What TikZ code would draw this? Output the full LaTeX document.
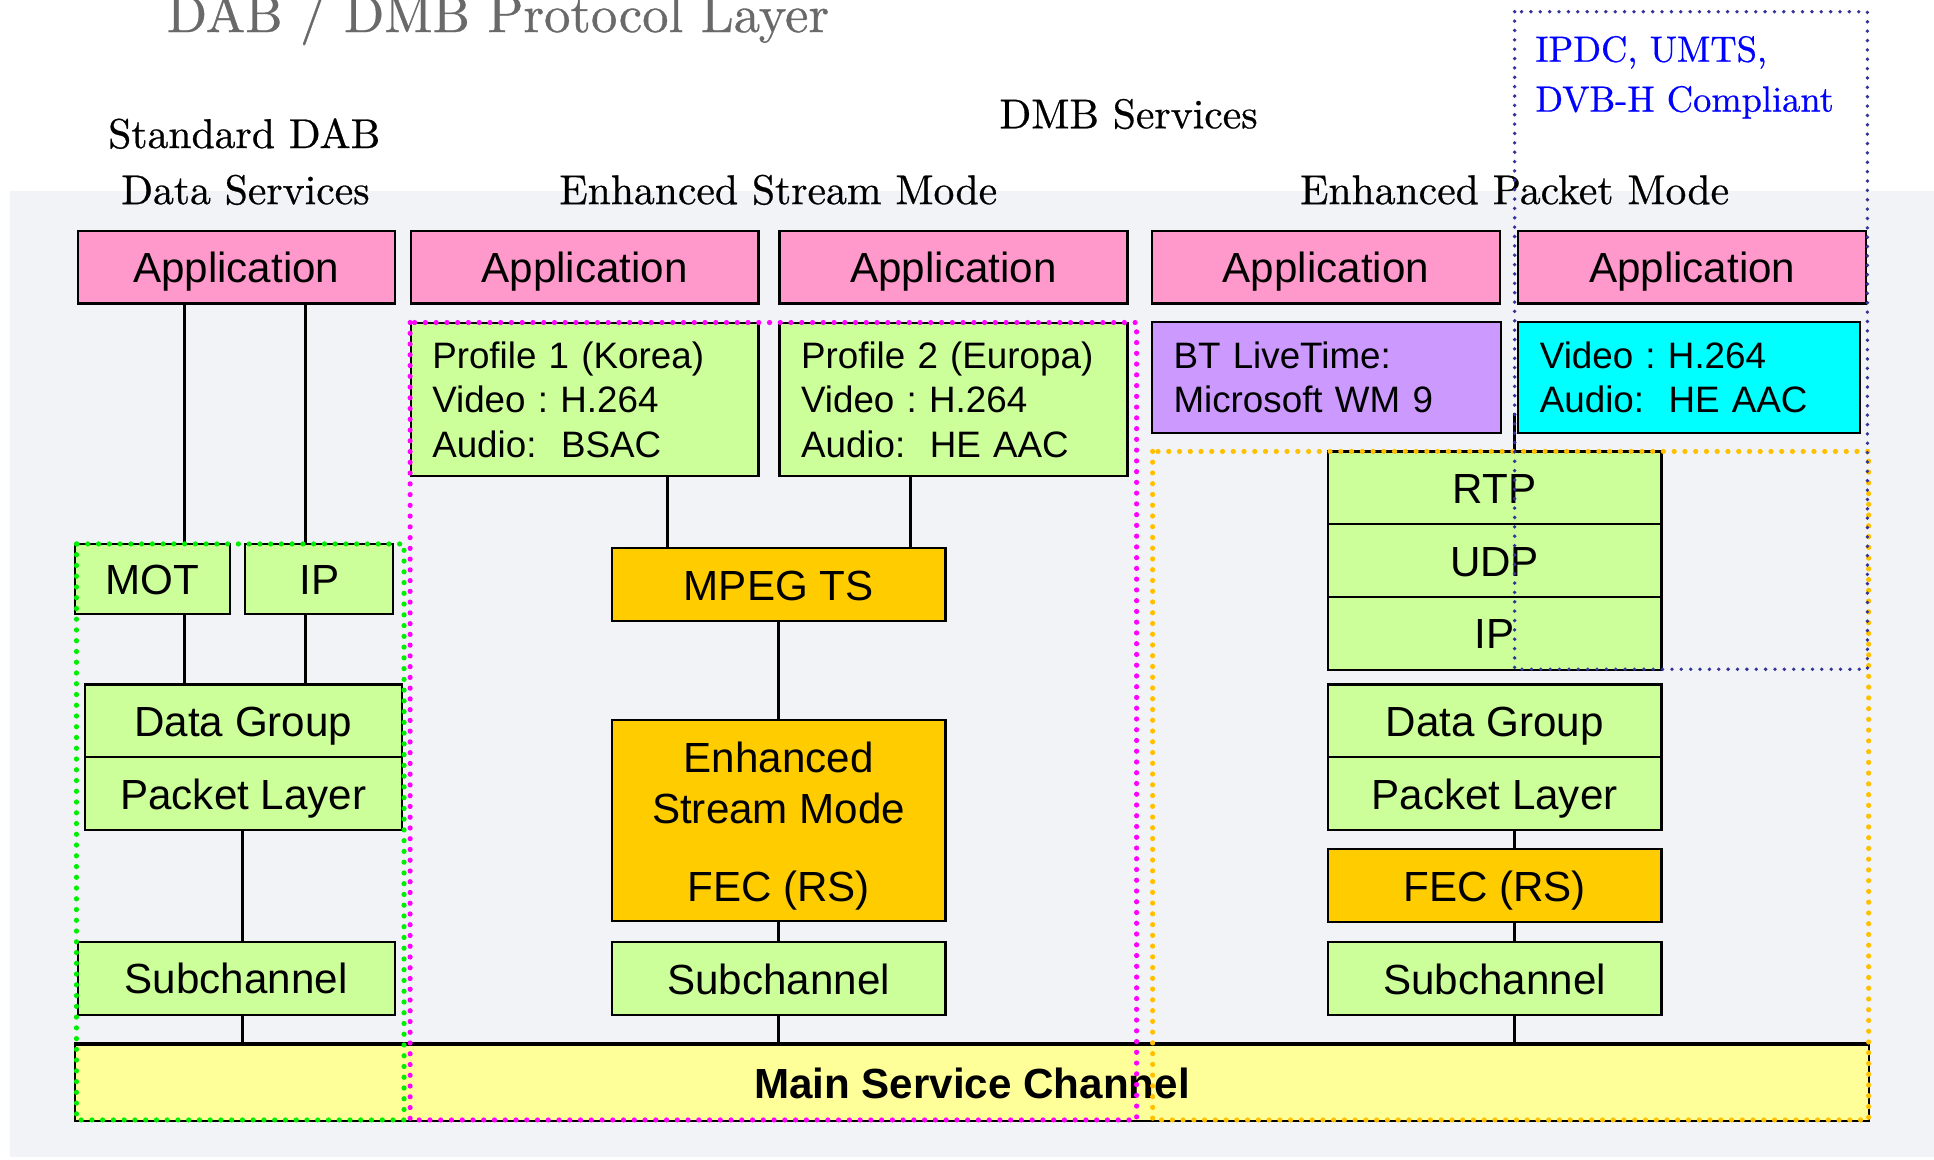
\documentclass[tikz,border=0pt]{standalone}
\usepackage{fontspec}
\newfontfamily\arialfont{Liberation Sans}
\newfontfamily\hdrfont{lmroman10-regular.otf}[FakeBold=0.6]
\definecolor{apppink}{HTML}{FF99CC}
\definecolor{layergreen}{HTML}{CCFF99}
\definecolor{fecorange}{HTML}{FFCC00}
\definecolor{wmpurple}{HTML}{CC99FF}
\definecolor{ipcyan}{HTML}{00FFFF}
\definecolor{mscyellow}{HTML}{FFFF99}
\definecolor{grpgreen}{HTML}{00EE00}
\definecolor{grpmagenta}{HTML}{FF00FF}
\definecolor{grporange}{HTML}{FFC000}
\definecolor{grpnavy}{HTML}{333399}
\definecolor{bgA}{RGB}{241,243,246}
\definecolor{bgB}{RGB}{229,231,235}
\definecolor{titlegrey}{RGB}{105,105,105}
\tikzset{
  blk/.style={draw=black, line width=1.3pt, inner sep=0pt, minimum height=1.475cm,
    font=\arialfont\fontsize{24.3pt}{29pt}\selectfont, text height=21.9pt, text depth=3.9pt},
  info/.style={draw=black, line width=1.3pt, inner xsep=0.4375cm, inner ysep=0pt, align=left,
    font=\arialfont\fontsize{21.2pt}{25.7pt}\selectfont\frenchspacing},
  wire/.style={line width=1.8pt},
  grp/.style={draw=#1, line width=3pt, line cap=round, dash pattern=on 0pt off 6.2pt},
  hdr/.style={anchor=base, inner sep=0pt, font=\hdrfont\fontsize{24pt}{29pt}\selectfont}
}
\begin{document}
\begin{tikzpicture}[x=0.025cm,y=-0.025cm]
                \useasboundingbox (0,0) rectangle (1568,940);
                \fill[white] (0,0) rectangle (1568,940);
                \shade[top color=bgA, middle color=bgB, bottom color=bgA] (8,155.5) rectangle (1568,938);
                \node[anchor=base west, inner sep=0pt, text=titlegrey, font=\hdrfont\fontsize{30.4pt}{36pt}\selectfont] (title) at (135,26) {DAB / DMB Protocol Layer};
                \node[hdr] (std1) at (198,120) {Standard DAB};
                \node[hdr] (std2) at (199,165.5) {Data Services};
                \node[hdr] (dmb) at (915,104) {DMB Services};
                \node[hdr] (esmhd) at (631,165.5) {Enhanced Stream Mode};
                \node[hdr] (epmhd) at (1228,165.5) {Enhanced Packet Mode};
                \node[hdr, anchor=base west, text=blue, font=\hdrfont\fontsize{21pt}{25pt}\selectfont] (cmp1) at (1244.5,50) {IPDC, UMTS,};
                \node[hdr, anchor=base west, text=blue, font=\hdrfont\fontsize{21pt}{25pt}\selectfont] (cmp2) at (1244.5,90.5) {DVB-H Compliant};
                \node[blk, fill=apppink, minimum width=6.425cm] (app1) at (191.5,216.5) {Application};
                \node[blk, fill=apppink, minimum width=7.05cm] (app2) at (474,216.5) {Application};
                \node[blk, fill=apppink, minimum width=7.05cm] (app3) at (773,216.5) {Application};
                \node[blk, fill=apppink, minimum width=7.05cm] (app4) at (1075,216.5) {Application};
                \node[blk, fill=apppink, minimum width=7.05cm] (app5) at (1372,216.5) {Application};
                \node[info, fill=layergreen, text width=6.175cm, minimum height=3.1cm] (prof1) at (474,324) {Profile 1 (Korea)\\Video : H.264\\Audio:\ \ BSAC};
                \node[info, fill=layergreen, text width=6.175cm, minimum height=3.1cm] (prof2) at (773,324) {Profile 2 (Europa)\\Video : H.264\\Audio:\ \ HE AAC};
                \node[info, fill=wmpurple, text width=6.2cm, minimum height=2.25cm] (btlt) at (1075.5,306) {BT LiveTime:\\Microsoft WM 9};
                \node[info, fill=ipcyan, text width=6.05cm, minimum height=2.25cm] (avc) at (1369.5,306) {Video : H.264\\Audio:\ \ HE AAC};
                \node[blk, fill=layergreen, minimum width=3.1375cm, minimum height=1.425cm] (mot) at (123.75,469.5) {MOT};
                \node[blk, fill=layergreen, minimum width=3.0cm, minimum height=1.425cm] (ipl) at (258.9,469.5) {IP};
                \node[blk, fill=layergreen, minimum width=6.425cm] (dgl) at (197.3,584.5) {Data Group};
                \node[blk, fill=layergreen, minimum width=6.425cm] (pll) at (197.3,643.5) {Packet Layer};
                \node[blk, fill=layergreen, minimum width=6.425cm] (subl) at (191.5,793.2) {Subchannel};
                \node[blk, fill=fecorange, minimum width=6.765cm] (mpeg) at (631.3,474) {MPEG TS};
                \node[blk, fill=fecorange, minimum width=6.765cm, minimum height=4.07cm, align=center,
                      text height=, text depth=, font=\arialfont\fontsize{24.3pt}{29.9pt}\selectfont] (esm) at (631.3,665.25)
                      {\rule{0pt}{23.5pt}Enhanced\\Stream Mode\\[14.6pt]FEC (RS)};
                \node[blk, fill=layergreen, minimum width=6.765cm] (subm) at (631.3,793.25) {Subchannel};
                \node[blk, fill=layergreen, minimum width=6.7625cm] (rtp) at (1211.75,395.5) {RTP};
                \node[blk, fill=layergreen, minimum width=6.7625cm] (udp) at (1211.75,454.5) {UDP};
                \node[blk, fill=layergreen, minimum width=6.7625cm] (ipr) at (1211.75,513.5) {IP};
                \node[blk, fill=layergreen, minimum width=6.7625cm] (dgr) at (1211.75,584.5) {Data Group};
                \node[blk, fill=layergreen, minimum width=6.7625cm] (plr) at (1211.75,643.5) {Packet Layer};
                \node[blk, fill=fecorange, minimum width=6.7625cm] (fec) at (1211.75,718) {FEC (RS)};
                \node[blk, fill=layergreen, minimum width=6.7625cm] (subr) at (1211.75,793.25) {Subchannel};
                \node[blk, fill=mscyellow, minimum width=36.35cm, minimum height=1.53cm, font=\arialfont\bfseries\fontsize{24.3pt}{29pt}\selectfont] (msc) at (788,878) {Main Service Channel};
                \draw[line width=2.6pt] (msc.north west) -- (msc.north east);
                \coordinate (tap) at (1228,335);
                \draw[wire] (149.4,0 |- app1.south) -- (149.4,0 |- mot.north);
                \draw[wire] (247.5,0 |- app1.south) -- (247.5,0 |- ipl.north);
                \draw[wire] (149.4,0 |- mot.south) -- (149.4,0 |- dgl.north);
                \draw[wire] (247.5,0 |- ipl.south) -- (247.5,0 |- dgl.north);
                \draw[wire] (196.5,0 |- pll.south) -- (196.5,0 |- subl.north);
                \draw[wire] (196.5,0 |- subl.south) -- (196.5,0 |- msc.north);
                \draw[wire] (541.5,0 |- prof1.south) -- (541.5,0 |- mpeg.north);
                \draw[wire] (738.3,0 |- prof2.south) -- (738.3,0 |- mpeg.north);
                \draw[wire] (mpeg.south) -- (esm.north);
                \draw[wire] (esm.south) -- (subm.north);
                \draw[wire] (subm.south) -- (subm.south |- msc.north);
                \draw[wire] (tap) -- (tap |- rtp.north);
                \draw[wire] (1228,0 |- plr.south) -- (1228,0 |- fec.north);
                \draw[wire] (1228,0 |- fec.south) -- (1228,0 |- subr.north);
                \draw[wire] (1228,0 |- subr.south) -- (1228,0 |- msc.north);
                \draw[grp=grpgreen] (62,441) rectangle (327.6,908);
                \draw[grp=grpmagenta] (332.5,261.5) rectangle (921.5,908);
                \draw[grp=grporange] (934.5,366) rectangle (1515,908);
                \draw[grp=grpnavy, line width=2.2pt, dash pattern=on 0pt off 5.4pt] (1228,9.5) rectangle (1514,542.6);
            \end{tikzpicture}
\end{document}
